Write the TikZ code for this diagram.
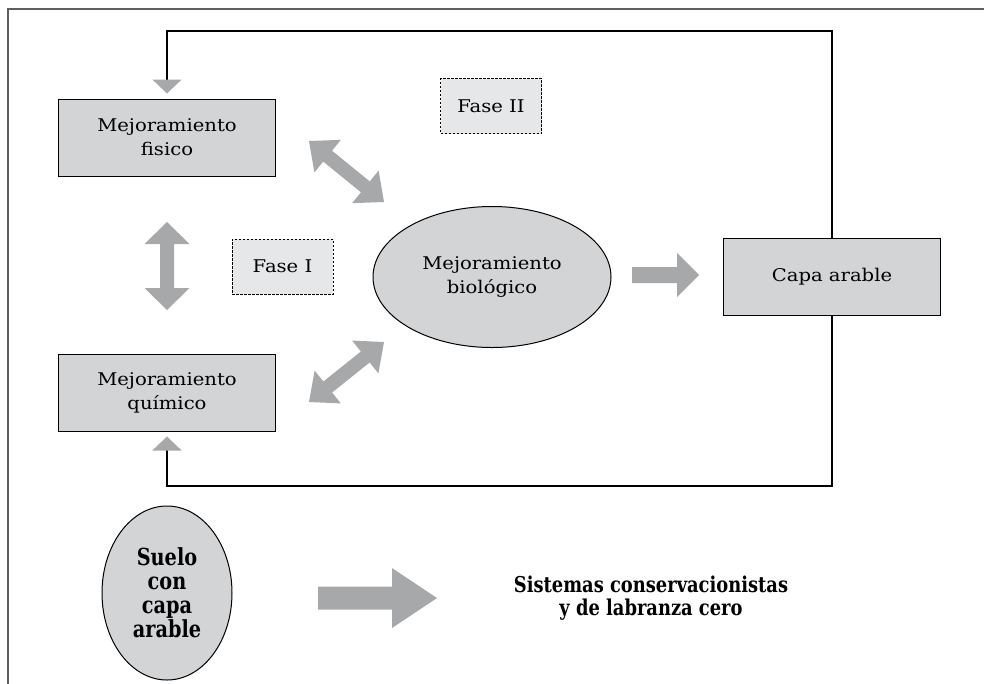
\documentclass[tikz,border=0pt]{standalone}
\usepackage{fontspec}
\setmainfont{DejaVu Serif}[FakeStretch=1.12]
\newfontfamily\condbold{DejaVu Serif}[FakeStretch=0.82]
\usetikzlibrary{calc,shapes.geometric,arrows.meta}
\definecolor{boxgray}{RGB}{211,212,214}
\definecolor{fatgray}{RGB}{167,168,170}
\definecolor{fasegray}{RGB}{230,231,232}
\definecolor{framegray}{RGB}{95,95,95}
\newcommand\fatdbl[5]{\fill[fatgray] (#1)
 -- ($(#1)!#3!(#2)!#4!90:(#2)$)
 -- ($(#1)!#3!(#2)!#5!90:(#2)$)
 -- ($(#2)!#3!(#1)!#5!-90:(#1)$)
 -- ($(#2)!#3!(#1)!#4!-90:(#1)$)
 -- (#2)
 -- ($(#2)!#3!(#1)!#4!90:(#1)$)
 -- ($(#2)!#3!(#1)!#5!90:(#1)$)
 -- ($(#1)!#3!(#2)!#5!-90:(#2)$)
 -- ($(#1)!#3!(#2)!#4!-90:(#2)$)
 -- cycle;}
\newcommand\fatsgl[5]{\fill[fatgray] ($(#1)!#5!90:(#2)$)
 -- ($(#2)!#3!(#1)!#5!-90:(#1)$)
 -- ($(#2)!#3!(#1)!#4!-90:(#1)$)
 -- (#2)
 -- ($(#2)!#3!(#1)!#4!90:(#1)$)
 -- ($(#2)!#3!(#1)!#5!90:(#1)$)
 -- ($(#1)!#5!-90:(#2)$)
 -- cycle;}
\tikzset{
  txt/.style={font=\fontsize{17.5}{24}\selectfont, align=center},
  btxt/.style={font=\condbold\bfseries\fontsize{21.8}{23.5}\selectfont, align=center},
  stxt/.style={font=\condbold\bfseries\fontsize{23.5}{24}\selectfont, align=center},
  graybox/.style={txt, draw=black, line width=1pt, fill=boxgray, minimum width=217pt, minimum height=77pt, inner sep=0pt},
  fasebox/.style={txt, draw=black, line width=0.8pt, dash pattern=on 2.5pt off 1.5pt, fill=fasegray, minimum width=101pt, minimum height=55pt, inner sep=0pt},
  grayell/.style={draw=black, line width=1pt, fill=boxgray, ellipse, inner sep=0pt},
  fb/.style={draw=black, line width=1.3pt, -{Triangle[width=29pt,length=14pt,color=fatgray]}, shorten >=5pt}
}
\begin{document}
\begin{tikzpicture}[x=1pt,y=-1pt]
\useasboundingbox (0,0) rectangle (984,683);
\fill[white] (0,0) rectangle (984,683);
\draw[framegray, line width=1.8pt] (8,690) -- (8,9) -- (990,9);

\node[graybox] (fis) at (167,137.5) {Mejoramiento\\fisico};
\node[graybox] (qui) at (167,392.5) {Mejoramiento\\químico};
\node[graybox] (capa) at (832,276.5) {Capa arable};
\node[grayell, txt, minimum width=238pt, minimum height=141pt] (bio) at (492,277) {Mejoramiento\\biológico};
\node[fasebox] (f1) at (282.5,266.5) {Fase I};
\node[fasebox] (f2) at (491,106) {Fase II};
\node[grayell, stxt, minimum width=130pt, minimum height=174pt] (suelo) at (167,593) {Suelo\\con\\capa\\arable};
\node[btxt] (sist) at (651,598) {Sistemas conservacionistas\\y de labranza cero};

\coordinate (topR) at (832,31);
\coordinate (topL) at (167,31);
\coordinate (botR) at (832,486);
\coordinate (botL) at (167,486);
\draw[fb] (capa.north) -- (topR) -- (topL) -- (fis.north);
\draw[fb] (capa.south) -- (botR) -- (botL) -- (qui.south);

\coordinate (va1) at (167,222);
\coordinate (va2) at (167,310);
\coordinate (da1) at (309,141);
\coordinate (da2) at (384,202);
\coordinate (db1) at (309,402);
\coordinate (db2) at (384,342);
\coordinate (ra1) at (632,275);
\coordinate (ra2) at (699,275);
\coordinate (ba1) at (318,598);
\coordinate (ba2) at (437,598);
\fatdbl{va1}{va2}{22pt}{22.5pt}{7pt}
\fatdbl{da1}{da2}{24pt}{21pt}{7pt}
\fatdbl{db1}{db2}{24pt}{21pt}{7pt}
\fatsgl{ra1}{ra2}{22pt}{22pt}{8pt}
\fatsgl{ba1}{ba2}{45pt}{30pt}{11.5pt}
\end{tikzpicture}
\end{document}
